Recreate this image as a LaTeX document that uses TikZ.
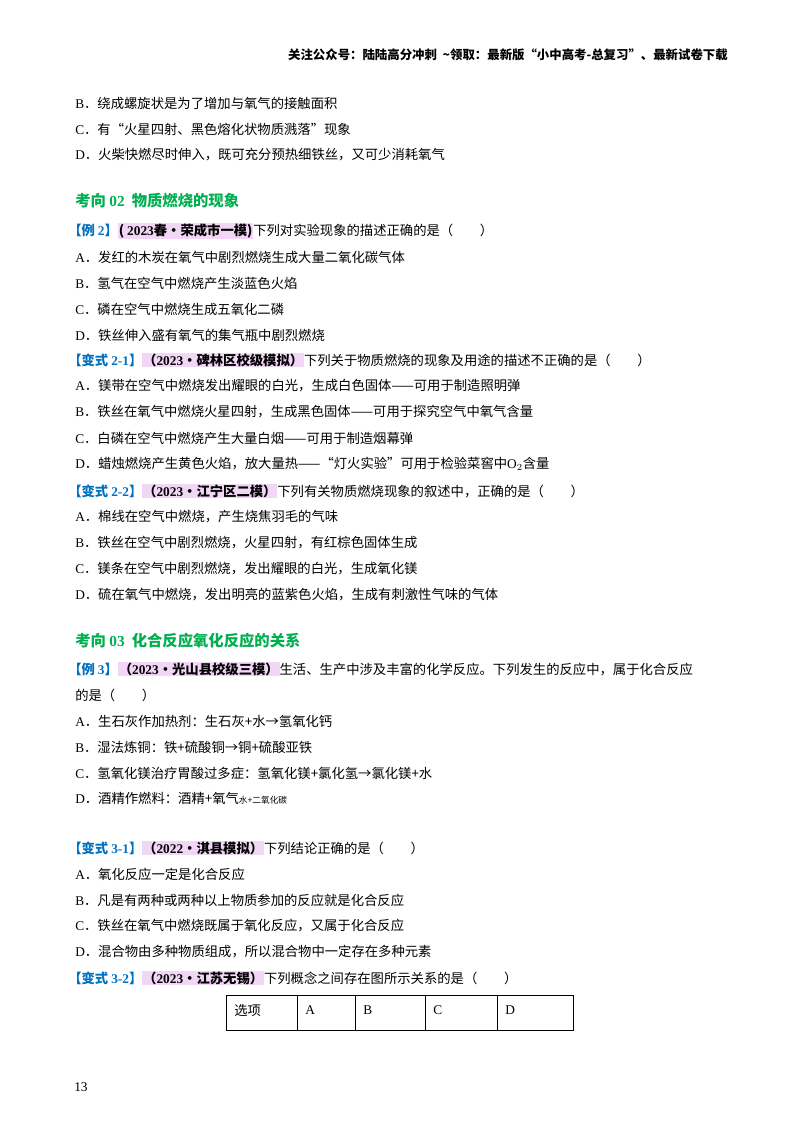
\documentclass[tikz,border=0pt]{standalone}
\usepackage{fontspec}
\setmainfont{Noto Sans CJK SC}
\newfontfamily\lat{Liberation Serif}
\definecolor{hlpink}{RGB}{242,214,246}
\definecolor{exblue}{RGB}{0,112,192}
\definecolor{secgreen}{RGB}{0,176,80}
\newcommand{\hlbox}[1]{{\setlength{\fboxsep}{0.6pt}\colorbox{hlpink}{\textbf{#1}}}}
\newcommand{\ex}[1]{\textcolor{exblue}{\textbf{#1}}}
\newcommand{\op}[1]{{\lat #1}．}
\begin{document}
\begin{tikzpicture}[x=0.75pt,y=-0.75pt,
  txt/.style={anchor=west,inner sep=0pt,font=\fontsize{10pt}{12pt}\selectfont},
  sec/.style={anchor=west,inner sep=0pt,font=\fontsize{11.5pt}{13pt}\selectfont\bfseries,text=secgreen},
  cell/.style={anchor=west,inner sep=0pt,font=\fontsize{10pt}{12pt}\selectfont}]
\useasboundingbox[fill=white] (0,0) rectangle (800,1132);
\node[anchor=east,inner sep=0pt,font=\fontsize{9.3pt}{11pt}\selectfont\bfseries] (hdr) at (728,55) {关注公众号：陆陆高分冲刺\ \ \textasciitilde 领取：最新版“小中高考-总复习”、最新试卷下载};
\node[txt] (l1) at (75,103) {\op{B}绕成螺旋状是为了增加与氧气的接触面积};
\node[txt] (l2) at (75,129) {\op{C}有“火星四射、黑色熔化状物质溅落”现象};
\node[txt] (l3) at (75,155) {\op{D}火柴快燃尽时伸入，既可充分预热细铁丝，又可少消耗氧气};
\node[sec] (s2) at (75,201) {考向 {\lat\bfseries 02}\ \ 物质燃烧的现象};
\node[txt] (e2) at (68,231) {\ex{【例 {\lat 2}】}\hlbox{( {\lat\bfseries 2023}春•荣成市一模)}下列对实验现象的描述正确的是（\qquad ）};
\node[txt] (a2) at (75,257) {\op{A}发红的木炭在氧气中剧烈燃烧生成大量二氧化碳气体};
\node[txt] (b2) at (75,283) {\op{B}氢气在空气中燃烧产生淡蓝色火焰};
\node[txt] (c2) at (75,309) {\op{C}磷在空气中燃烧生成五氧化二磷};
\node[txt] (d2) at (75,335) {\op{D}铁丝伸入盛有氧气的集气瓶中剧烈燃烧};
\node[txt] (v21) at (68,360) {\ex{【变式 {\lat 2-1}】}\hlbox{（{\lat\bfseries 2023}•碑林区校级模拟）}下列关于物质燃烧的现象及用途的描述不正确的是（\qquad ）};
\node[txt] (a21) at (75,386) {\op{A}镁带在空气中燃烧发出耀眼的白光，生成白色固体——可用于制造照明弹};
\node[txt] (b21) at (75,412) {\op{B}铁丝在氧气中燃烧火星四射，生成黑色固体——可用于探究空气中氧气含量};
\node[txt] (c21) at (75,438) {\op{C}白磷在空气中燃烧产生大量白烟——可用于制造烟幕弹};
\node[txt] (d21) at (75,464) {\op{D}蜡烛燃烧产生黄色火焰，放大量热——“灯火实验”可用于检验菜窖中{\lat O$_2$}含量};
\node[txt] (v22) at (68,491) {\ex{【变式 {\lat 2-2}】}\hlbox{（{\lat\bfseries 2023}•江宁区二模）}下列有关物质燃烧现象的叙述中，正确的是（\qquad ）};
\node[txt] (a22) at (75,517) {\op{A}棉线在空气中燃烧，产生烧焦羽毛的气味};
\node[txt] (b22) at (75,543) {\op{B}铁丝在空气中剧烈燃烧，火星四射，有红棕色固体生成};
\node[txt] (c22) at (75,569) {\op{C}镁条在空气中剧烈燃烧，发出耀眼的白光，生成氧化镁};
\node[txt] (d22) at (75,595) {\op{D}硫在氧气中燃烧，发出明亮的蓝紫色火焰，生成有刺激性气味的气体};
\node[sec] (s3) at (75,641) {考向 {\lat\bfseries 03}\ \ 化合反应氧化反应的关系};
\node[txt] (e3) at (68,669) {\ex{【例 {\lat 3}】}\hlbox{（{\lat\bfseries 2023}•光山县校级三模）}生活、生产中涉及丰富的化学反应。下列发生的反应中，属于化合反应};
\node[txt] (e3b) at (75,695) {的是（\qquad ）};
\node[txt] (a3) at (75,721) {\op{A}生石灰作加热剂：生石灰+水→氢氧化钙};
\node[txt] (b3) at (75,747) {\op{B}湿法炼铜：铁+硫酸铜→铜+硫酸亚铁};
\node[txt] (c3) at (75,773) {\op{C}氢氧化镁治疗胃酸过多症：氢氧化镁+氯化氢→氯化镁+水};
\node[txt] (d3) at (75,798) {\op{D}酒精作燃料：酒精+氧气{\fontsize{6.5pt}{7pt}\selectfont 水+二氧化碳}};
\node[txt] (v31) at (68,848) {\ex{【变式 {\lat 3-1}】}\hlbox{（{\lat\bfseries 2022}•淇县模拟）}下列结论正确的是（\qquad ）};
\node[txt] (a31) at (75,874) {\op{A}氧化反应一定是化合反应};
\node[txt] (b31) at (75,900) {\op{B}凡是有两种或两种以上物质参加的反应就是化合反应};
\node[txt] (c31) at (75,926) {\op{C}铁丝在氧气中燃烧既属于氧化反应，又属于化合反应};
\node[txt] (d31) at (75,952) {\op{D}混合物由多种物质组成，所以混合物中一定存在多种元素};
\node[txt] (v32) at (68,978) {\ex{【变式 {\lat 3-2}】}\hlbox{（{\lat\bfseries 2023}·江苏无锡）}下列概念之间存在图所示关系的是（\qquad ）};
\draw[line width=0.6pt] (226,995) rectangle (573,1030);
\foreach \xx in {297,355,425,497} \draw[line width=0.6pt] (\xx,995) -- (\xx,1030);
\node[cell] (t0) at (234,1010) {选项};
\node[cell] (t1) at (305,1010) {\lat A};
\node[cell] (t2) at (363,1010) {\lat B};
\node[cell] (t3) at (433,1010) {\lat C};
\node[cell] (t4) at (505,1010) {\lat D};
\node[txt] (pg) at (74,1087) {\lat 13};
\end{tikzpicture}
\end{document}
